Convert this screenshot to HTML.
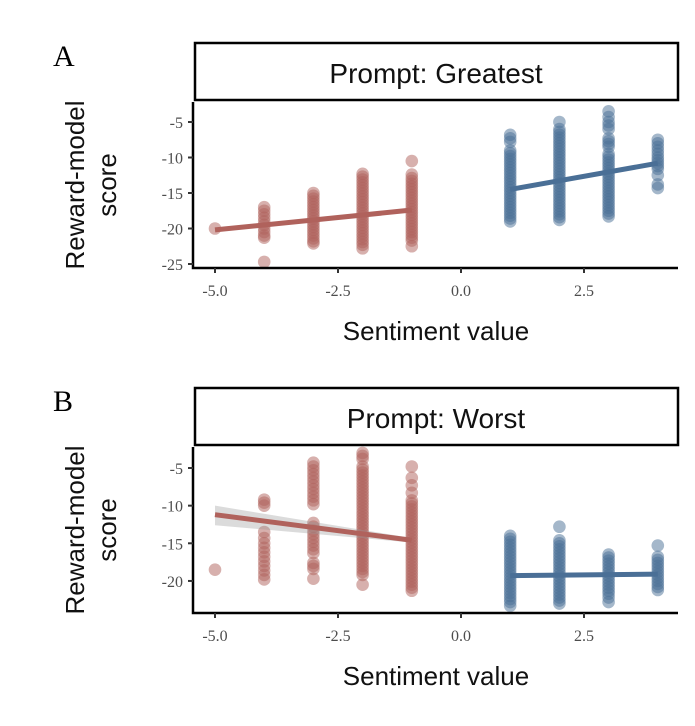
<!DOCTYPE html>
<html><head><meta charset="utf-8"><style>
html,body{margin:0;padding:0;background:#fff;}
svg{display:block;}
.tick{font-family:"Liberation Serif",serif;font-size:16px;fill:#4d4d4d;}
.lab{font-family:"Liberation Sans",sans-serif;font-size:26px;fill:#111;}
</style></head><body>
<svg id="chart" width="695" height="726" viewBox="0 0 695 726"></svg>
<script>
const xTicks=[-5,-2.5,0,2.5];
const xTickLabels=["-5.0","-2.5","0.0","2.5"];
const yTicksA=[-5,-10,-15,-20,-25];
const yTicksB=[-5,-10,-15,-20];
const negXs=[-5,-4,-3,-2,-1];
const posXs=[1,2,3,4];
// Panel A (Greatest)
const aNeg=[[-20],
 [-17,-17.5,-18,-18.5,-19,-19.5,-20,-20.5,-21,-21.3,-24.7],
 [-15,-15.4,-15.8,-16.2,-16.6,-17,-17.4,-17.8,-18.2,-18.6,-19,-19.4,-19.8,-20.2,-20.6,-21,-21.4,-21.8,-22.1],
 [-12.3,-12.7,-13.1,-13.5,-13.9,-14.3,-14.7,-15.1,-15.5,-15.9,-16.3,-16.7,-17.1,-17.5,-17.9,-18.3,-18.7,-19.1,-19.5,-19.9,-20.3,-20.7,-21.1,-21.5,-21.9,-22.3,-22.8],
 [-10.5,-12.4,-12.9,-13.3,-13.7,-14.1,-14.5,-14.9,-15.3,-15.7,-16.1,-16.5,-16.9,-17.3,-17.7,-18.1,-18.5,-18.9,-19.3,-19.7,-20.1,-20.5,-20.9,-21.3,-21.7,-22.5]];
const aPos=[[-6.8,-7.3,-7.8,-9,-9.4,-9.8,-10.2,-10.6,-11,-11.4,-11.8,-12.2,-12.6,-13,-13.4,-13.8,-14.2,-14.6,-15,-15.4,-15.8,-16.2,-16.6,-17,-17.4,-17.8,-18.2,-18.6,-19],
 [-5,-6,-6.4,-6.8,-7.2,-7.6,-8,-8.4,-8.8,-9.2,-9.6,-10,-10.4,-10.8,-11.2,-11.6,-12,-12.4,-12.8,-13.2,-13.6,-14,-14.4,-14.8,-15.2,-15.6,-16,-16.4,-16.8,-17.2,-17.6,-18,-18.4,-18.8],
 [-3.5,-4.3,-5,-5.5,-6,-7.3,-7.7,-8.1,-8.5,-9.5,-9.9,-10.3,-10.7,-11.1,-11.5,-11.9,-12.3,-12.7,-13.1,-13.5,-13.9,-14.3,-14.7,-15.1,-15.5,-15.9,-16.3,-16.7,-17.1,-17.5,-17.9,-18.3],
 [-7.5,-8,-8.5,-9,-9.5,-10,-10.4,-10.8,-11.2,-11.6,-12.5,-13.8,-14.3]];
const aNegFit=[-20.2,-17.4];
const aPosFit=[-14.5,-10.8];
// Panel B (Worst)
const bNeg=[[-18.5],
 [-9.2,-9.6,-10,-13.5,-14.3,-15,-15.6,-16.2,-16.8,-17.4,-18,-18.6,-19.2,-19.8],
 [-4.3,-4.8,-5.3,-5.8,-6.3,-6.8,-7.3,-7.8,-8.3,-8.8,-9.3,-9.8,-12.3,-12.8,-13.3,-13.8,-14.3,-14.8,-15.3,-15.8,-16.3,-17.6,-18,-18.4,-19.7],
 [-3,-3.4,-3.8,-4.8,-5.2,-5.6,-6,-6.4,-6.8,-7.2,-7.6,-8,-8.4,-8.8,-9.2,-9.6,-10,-10.4,-10.8,-11.2,-11.6,-12,-12.4,-12.8,-13.2,-13.6,-14,-14.4,-14.8,-15.2,-15.6,-16,-16.4,-16.8,-17.2,-17.6,-18,-18.4,-18.8,-19.2,-20.5],
 [-4.8,-6.3,-7.3,-8.3,-9.3,-9.7,-10.1,-10.5,-10.9,-11.3,-11.7,-12.1,-12.5,-12.9,-13.3,-13.7,-14.1,-14.5,-14.9,-15.3,-15.7,-16.1,-16.5,-16.9,-17.3,-17.7,-18.1,-18.5,-18.9,-19.3,-19.7,-20.1,-20.5,-20.9,-21.3]];
const bPos=[[-14,-14.4,-14.8,-15.2,-15.6,-16,-16.4,-16.8,-17.2,-17.6,-18,-18.4,-18.8,-19.2,-19.6,-20,-20.4,-20.8,-21.2,-21.6,-22,-22.4,-22.8,-23.3],
 [-12.8,-14.6,-15,-15.4,-15.8,-16.2,-16.6,-17,-17.4,-17.8,-18.2,-18.6,-19,-19.4,-19.8,-20.2,-20.6,-21,-21.4,-21.8,-22.2,-22.6,-23],
 [-16.5,-16.9,-17.3,-17.7,-18.1,-18.5,-18.9,-19.3,-19.7,-20.1,-20.5,-20.9,-21.3,-21.7,-22.2,-22.8],
 [-15.3,-16.8,-17.2,-17.6,-18,-18.4,-18.8,-19.2,-19.6,-20,-20.4,-20.8,-21.2]];
const bNegFit=[-11.2,-14.6];
const bPosFit=[-19.3,-19.1];

const NS="http://www.w3.org/2000/svg";
const svg=document.getElementById('chart');
function mk(tag,attrs,parent){const e=document.createElementNS(NS,tag);for(const k in attrs)e.setAttribute(k,attrs[k]);(parent||svg).appendChild(e);return e;}
const xs=v=>461+49.2*v;
const RED="#b0625c",BLUE="#4a6f96";

function panel(p){
  const g=mk('g',{});
  
  
  const ys=v=>p.y0+(-5-v)*p.k;
  const pl=mk('text',{x:53,y:p.stripTop+23,'font-size':30,'font-family':'Liberation Serif,serif',fill:'#000'},g);pl.textContent=p.letter;
  
  const sr=mk('rect',{x:195,y:p.stripTop,width:483,height:57,fill:'#fff',stroke:'#000','stroke-width':2.5},g);
  
  const st=mk('text',{x:436,y:p.stripTop+40,'text-anchor':'middle',class:'lab','font-size':28,style:'font-size:28px'},g);st.textContent=p.title;
  
  const pts=mk('g',{},g);
  
  const draw=(xsArr,vals,col)=>vals.forEach((col2,i)=>col2.forEach(v=>{
    const c=mk('circle',{cx:xs(xsArr[i]),cy:ys(v),r:6.3,fill:col,'fill-opacity':0.5},pts);
    
  }));
  draw(negXs,p.neg,RED);draw(posXs,p.pos,BLUE);
  if(p.band){
    const b=mk('polygon',{points:`${xs(-5)},${ys(p.negFit[0]+1.2)} ${xs(-1)},${ys(p.negFit[1]+0.3)} ${xs(-1)},${ys(p.negFit[1]-0.3)} ${xs(-5)},${ys(p.negFit[0]-1.4)}`,fill:'#999','fill-opacity':0.35},g);
    
  }
  const l1=mk('line',{x1:xs(-5),y1:ys(p.negFit[0]),x2:xs(-1),y2:ys(p.negFit[1]),stroke:RED,'stroke-width':5},g);
  
  const l2=mk('line',{x1:xs(1),y1:ys(p.posFit[0]),x2:xs(4),y2:ys(p.posFit[1]),stroke:BLUE,'stroke-width':5},g);
  
  const ax=mk('path',{d:`M193,${p.top} V${p.bottom} H678`,fill:'none',stroke:'#000','stroke-width':2.5},g);
  
  p.yt.forEach(v=>{
    mk('line',{x1:188,x2:193,y1:ys(v),y2:ys(v),stroke:'#333','stroke-width':2},g);
    const t=mk('text',{x:183,y:ys(v)+6,'text-anchor':'end',class:'tick'},g);t.textContent=v;
    
  });
  xTicks.forEach((v,i)=>{
    mk('line',{x1:xs(v),x2:xs(v),y1:p.bottom,y2:p.bottom+5,stroke:'#333','stroke-width':2},g);
    const t=mk('text',{x:xs(v),y:p.bottom+28,'text-anchor':'middle',class:'tick'},g);t.textContent=xTickLabels[i];
    
  });
  const xl=mk('text',{x:436,y:p.bottom+72,'text-anchor':'middle',class:'lab'},g);xl.textContent='Sentiment value';
  
  const cy=(p.top+p.bottom)/2;
  const yl=mk('text',{transform:`translate(92,${cy}) rotate(-90)`,'text-anchor':'middle',class:'lab'},g);
  
  const t1=mk('tspan',{x:0,y:-8},yl);t1.textContent='Reward-model';
  const t2=mk('tspan',{x:0,y:24},yl);t2.textContent='score';
}
panel({name:'panel-greatest',letter:'A',title:'Prompt: Greatest',stripTop:43,top:102,bottom:268,y0:122,k:7.1,yt:yTicksA,neg:aNeg,pos:aPos,negFit:aNegFit,posFit:aPosFit,band:false});
panel({name:'panel-worst',letter:'B',title:'Prompt: Worst',stripTop:388,top:447,bottom:613,y0:468,k:7.53,yt:yTicksB,neg:bNeg,pos:bPos,negFit:bNegFit,posFit:bPosFit,band:true});
</script>
</body></html>
